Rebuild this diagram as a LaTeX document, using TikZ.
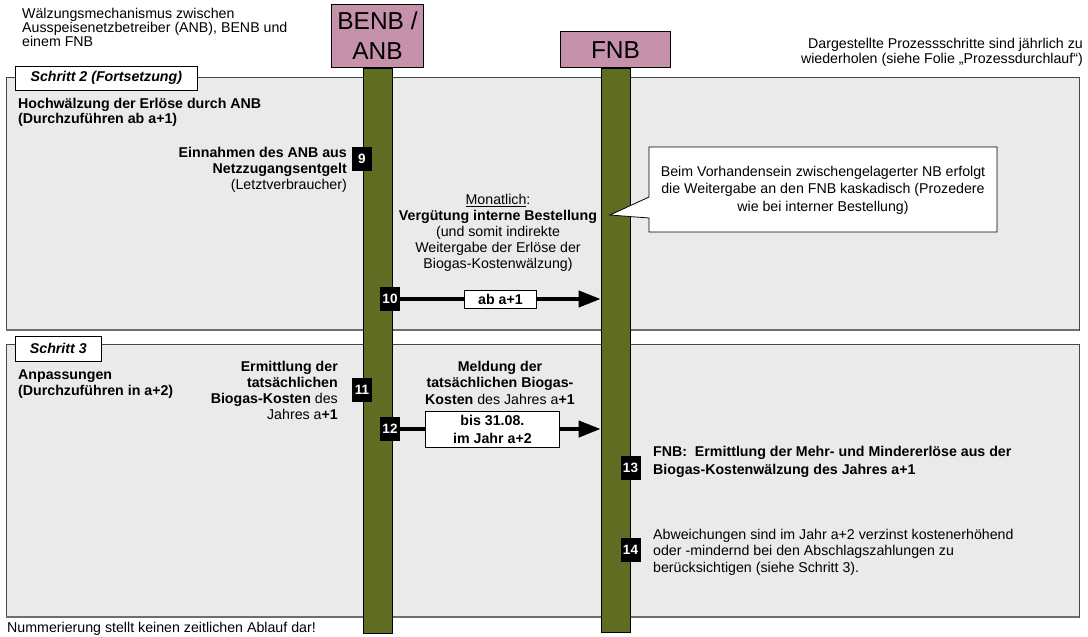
\documentclass[tikz,border=0pt]{standalone}
\usepackage{fontspec}
\setmainfont{Liberation Sans}
\usetikzlibrary{arrows.meta}
\definecolor{secfill}{RGB}{234,234,234}
\definecolor{secline}{RGB}{70,70,70}
\definecolor{secshadow}{RGB}{110,110,110}
\definecolor{headfill}{RGB}{198,145,170}
\definecolor{barcol}{RGB}{96,108,34}
\begin{document}
\begin{tikzpicture}[x=1pt,y=-1pt,
  txt/.style={inner sep=0pt, font=\fontsize{14.2}{16}\selectfont},
  sect/.style={draw=secline, fill=secfill, line width=0.8pt},
  shadowline/.style={draw=secshadow, line width=2pt},
  steplbl/.style={draw=black, fill=white, line width=0.6pt, inner sep=0pt, font=\fontsize{14.2}{16}\selectfont\bfseries\itshape},
  header/.style={draw=black, fill=headfill, line width=0.8pt, inner sep=0pt, font=\fontsize{24.5}{30}\selectfont, align=center},
  lifebar/.style={draw=black, fill=barcol, line width=0.6pt, inner sep=0pt, minimum width=29pt},
  numbox/.style={fill=black, text=white, inner sep=0pt, minimum width=20pt, minimum height=24pt, font=\fontsize{13.5}{14}\selectfont\bfseries},
  msg/.style={line width=4pt, -{Triangle[length=22pt,width=16pt]}},
  msglbl/.style={draw=black, fill=white, line width=0.8pt, inner sep=0pt, font=\fontsize{14.2}{18}\selectfont\bfseries, align=center}
]
\useasboundingbox (0,0) rectangle (1088,637);

% sections
\path[sect] (6,77) rectangle (1079,330);
\draw[shadowline] (6,330) -- (1079,330);
\path[sect] (6,344) rectangle (1079,617);
\draw[shadowline] (6,617) -- (1079,617);

% header texts
\node[txt, align=left, anchor=north west, font=\fontsize{14.2}{14}\selectfont] (title) at (22,8)
  {Wälzungsmechanismus zwischen\\Ausspeisenetzbetreiber (ANB), BENB und\\einem FNB};
\node[txt, align=right, anchor=north east, font=\fontsize{14.2}{15}\selectfont] (note) at (1083,38)
  {Dargestellte Prozessschritte sind jährlich zu\\wiederholen (siehe Folie „Prozessdurchlauf“)};

% step labels
\node[steplbl, anchor=north west, minimum width=182pt, minimum height=24pt] (s2) at (15,66) {Schritt 2 (Fortsetzung)};
\node[steplbl, anchor=north west, minimum width=86pt, minimum height=25pt] (s3) at (15,336) {Schritt 3};

% lifelines
\node[lifebar, anchor=north, minimum height=565pt] (bar1) at (377.5,68) {};
\node[lifebar, anchor=north, minimum height=564pt] (bar2) at (615.5,68) {};
\node[header, anchor=south, minimum width=92pt, minimum height=63pt] (h1) at (bar1.north) {BENB /\\ANB};
\node[header, anchor=south, minimum width=110pt, minimum height=36pt] (h2) at (bar2.north) {FNB};

% section 1
\node[txt, align=left, anchor=north west, font=\fontsize{14.2}{15.5}\selectfont\bfseries] (hoch) at (18,98)
  {Hochwälzung der Erlöse durch ANB\\(Durchzuführen ab a+1)};
\node[txt, align=right, anchor=north east] (t9) at (347,147)
  {\textbf{Einnahmen des ANB aus}\\\textbf{Netzzugangsentgelt}\\(Letztverbraucher)};
\node[numbox] (n9) at (362,159) {9};

\node[txt, align=center, anchor=north] (t10) at (498,194)
  {\underline{Monatlich}:\\\textbf{Vergütung interne Bestellung}\\(und somit indirekte\\Weitergabe der Erlöse der\\Biogas-Kostenwälzung)};
\node[numbox] (n10) at (390,299) {10};
\draw[msg] (n10.east) -- (n10.east -| bar2.west)
  node[msglbl, pos=0.5, minimum width=72pt, minimum height=18pt] (l10) {ab a+1};

% callout
\coordinate (tip) at (610,215);
\filldraw[draw=black, fill=white, line width=0.8pt]
  (649,147) -- (997,147) -- (997,232) -- (649,232) -- (649,218) -- (tip) -- (649,197) -- cycle;
\node[txt, align=center, anchor=north, font=\fontsize{14.2}{17.5}\selectfont] (call) at (823,166)
  {Beim Vorhandensein zwischengelagerter NB erfolgt\\die Weitergabe an den FNB kaskadisch (Prozedere\\wie bei interner Bestellung)};

% section 2
\node[txt, align=left, anchor=north west, font=\fontsize{14.2}{16}\selectfont\bfseries] (anp) at (18,370)
  {Anpassungen\\(Durchzuführen in a+2)};
\node[txt, align=right, anchor=north east] (t11) at (338,361)
  {\textbf{Ermittlung der}\\\textbf{tatsächlichen}\\\textbf{Biogas-Kosten} des\\Jahres a\textbf{+1}};
\node[numbox] (n11) at (362,390) {11};
\node[txt, align=center, anchor=north, font=\fontsize{14.2}{16.5}\selectfont] (t12) at (500,361)
  {\textbf{Meldung der}\\\textbf{tatsächlichen Biogas-}\\\textbf{Kosten} des Jahres a\textbf{+1}};
\node[numbox] (n12) at (390,429) {12};
\draw[msg] (n12.east) -- (n12.east -| bar2.west)
  node[msglbl, pos=0.46, minimum width=134pt, minimum height=36pt] (l12) {bis 31.08.\\im Jahr a+2};

\node[numbox] (n13) at (630.5,468) {13};
\node[txt, align=left, anchor=north west, font=\fontsize{14.2}{18}\selectfont\bfseries] (t13) at (653,446)
  {FNB:\ \ Ermittlung der Mehr- und Mindererlöse aus der\\Biogas-Kostenwälzung des Jahres a+1};
\node[numbox] (n14) at (630.5,550) {14};
\node[txt, align=left, anchor=north west, font=\fontsize{14.2}{16.5}\selectfont] (t14) at (653,529)
  {Abweichungen sind im Jahr a+2 verzinst kostenerhöhend\\oder -mindernd bei den Abschlagszahlungen zu\\berücksichtigen (siehe Schritt 3).};

\node[txt, anchor=north west] (foot) at (7,622) {Nummerierung stellt keinen zeitlichen Ablauf dar!};
\end{tikzpicture}
\end{document}
